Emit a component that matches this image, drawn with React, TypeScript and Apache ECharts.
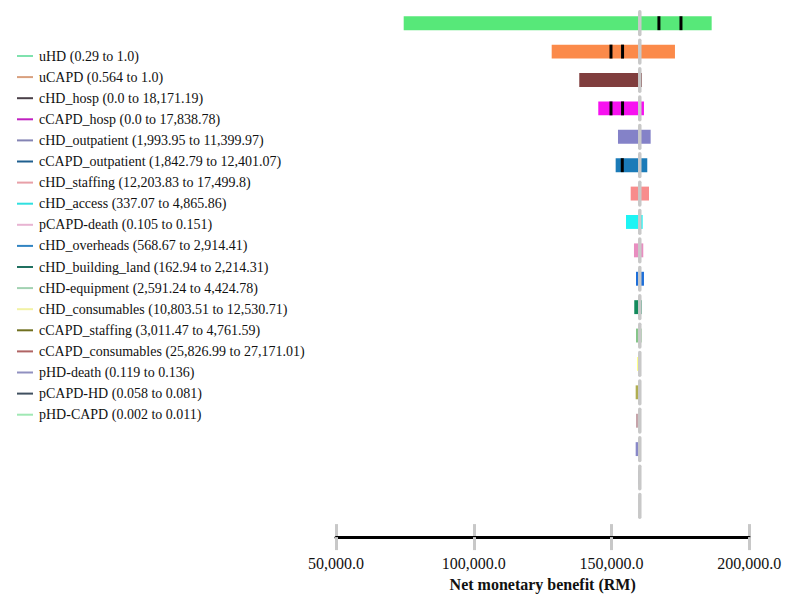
import React, { useEffect, useRef } from "react";
import * as echarts from "echarts";

const categories = [
  "uHD", "uCAPD", "cHD_hosp", "cCAPD_hosp", "cHD_outpatient", "cCAPD_outpatient",
  "cHD_staffing", "cHD_access", "pCAPD-death", "cHD_overheads", "cHD_building_land",
  "cHD-equipment", "cHD_consumables", "cCAPD_staffing", "cCAPD_consumables",
  "pHD-death", "pCAPD-HD", "pHD-CAPD",
];
const rangeLabels = [
  "0.29 to 1.0", "0.564 to 1.0", "0.0 to 18,171.19", "0.0 to 17,838.78",
  "1,993.95 to 11,399.97", "1,842.79 to 12,401.07", "12,203.83 to 17,499.8",
  "337.07 to 4,865.86", "0.105 to 0.151", "568.67 to 2,914.41", "162.94 to 2,214.31",
  "2,591.24 to 4,424.78", "10,803.51 to 12,530.71", "3,011.47 to 4,761.59",
  "25,826.99 to 27,171.01", "0.119 to 0.136", "0.058 to 0.081", "0.002 to 0.011",
];
const lowValues = [
  74570, 128280, 138290, 145190, 152340, 151500, 156950, 155240, 158140,
  158870, 158250, 158870, 159230, 158760, 158870, 158760, 159700, 160000,
];
const highValues = [
  186340, 173020, 161050, 161770, 164200, 162970, 163590, 161300, 161520,
  161770, 160940, 160940, 160680, 160580, 160580, 160320, 160400, 160350,
];
const baselineValue = 160250;
const markerRows = [0, 0, 1, 1, 3, 3, 5];
const markerValues = [167200, 175200, 149800, 154000, 149800, 154000, 153900];
const axisMin = 50000;
const axisMax = 200000;
const axisStep = 50000;

const barColors = [
  "#57E879", "#FB8A4A", "#803E3E", "#F711F0", "#8482C8", "#1B7BB8",
  "#F88C8C", "#1EF4F4", "#E88EC0", "#1E6FD9", "#138A5C", "#86C58A",
  "#FFFF88", "#B0AE50", "#C6A4AA", "#8888C8", "#5A5F70", "#90E0A0",
];
const legendColors = [
  "#7FE2AE", "#D9A07E", "#4A4048", "#C020C0", "#8484B4", "#1F5F8F",
  "#E8A0A8", "#30E0E0", "#E8B4D2", "#3184C2", "#207060", "#A2D2B2",
  "#F2F2A4", "#707020", "#B06464", "#9090C0", "#405060", "#A0E8B4",
];

const FONT = '"Liberation Serif", "Times New Roman", serif';

export default function App() {
  const ref = useRef<HTMLDivElement>(null);
  useEffect(() => {
    if (!ref.current) return;
    const chart = echarts.init(ref.current, null, { renderer: "svg" });
    const names = categories.map((c, i) => `${c} (${rangeLabels[i]})`);

    const barSeries = categories.map((c, i) => ({
      type: "custom",
      name: names[i],
      xAxisIndex: 0,
      yAxisIndex: 0,
      encode: { x: [0, 1], y: 2 },
      data: [[lowValues[i], highValues[i], i]],
      itemStyle: { color: barColors[i] },
      renderItem: (params: any, api: any) => {
        const row = api.value(2);
        const p0 = api.coord([api.value(0), row]);
        const p1 = api.coord([api.value(1), row]);
        const h = api.size([0, 1])[1] * 0.49;
        return {
          type: "rect",
          shape: { x: p0[0], y: p0[1] - h / 2, width: Math.max(p1[0] - p0[0], 1), height: h },
          style: { fill: barColors[i] },
        };
      },
    }));

    const baselineSeries = {
      type: "custom",
      name: "baseline",
      encode: { x: 0, y: 1 },
      data: categories.map((_, i) => [baselineValue, i]),
      renderItem: (params: any, api: any) => {
        const p = api.coord([api.value(0), api.value(1)]);
        const h = api.size([0, 1])[1];
        return {
          type: "line",
          shape: { x1: p[0], y1: p[1] - h * 0.4, x2: p[0], y2: p[1] + h * 0.4 },
          style: { stroke: "#C8C8C8", lineWidth: 3.5, lineCap: "round" },
        };
      },
    };

    const markerSeries = {
      type: "custom",
      name: "markers",
      encode: { x: 0, y: 1 },
      data: markerValues.map((v, i) => [v, markerRows[i]]),
      renderItem: (params: any, api: any) => {
        const p = api.coord([api.value(0), api.value(1)]);
        const h = api.size([0, 1])[1] * 0.49;
        return {
          type: "rect",
          shape: { x: p[0] - 1.5, y: p[1] - h / 2, width: 3, height: h },
          style: { fill: "#000" },
        };
      },
    };

    chart.setOption({
      animation: false,
      backgroundColor: "#fff",
      textStyle: { fontFamily: FONT },
      grid: { left: 336, right: 50.7, top: 9, bottom: 75, containLabel: false },
      legend: {
        orient: "vertical",
        left: 12,
        top: 44,
        itemWidth: 16,
        itemHeight: 2,
        itemGap: 7.1,
        icon: "rect",
        selectedMode: false,
        textStyle: { fontFamily: FONT, fontSize: 14, color: "#111", lineHeight: 14, padding: [0, 0, 0, 1] },
        data: names.map((n, i) => ({ name: n, itemStyle: { color: legendColors[i] } })),
      },
      xAxis: [
        {
          type: "value",
          min: axisMin,
          max: axisMax,
          interval: axisStep,
          position: "bottom",
          offset: 17,
          splitLine: { show: false },
          axisLine: { show: true, lineStyle: { color: "#000", width: 3 } },
          axisTick: { show: true, length: 13, lineStyle: { color: "#C8C8C8", width: 3 } },
          axisLabel: {
            margin: 18,
            fontFamily: FONT,
            fontSize: 16,
            color: "#111",
            formatter: (v: number) =>
              v.toLocaleString("en-US", { minimumFractionDigits: 1, maximumFractionDigits: 1 }),
          },
          name: "Net monetary benefit (RM)",
          nameLocation: "middle",
          nameGap: 38,
          nameTextStyle: { fontFamily: FONT, fontSize: 16, fontWeight: "bold", color: "#111" },
          z: 3,
        },
        {
          type: "value",
          min: axisMin,
          max: axisMax,
          interval: axisStep,
          position: "bottom",
          offset: 17,
          splitLine: { show: false },
          axisLine: { show: false },
          axisTick: { show: true, inside: true, length: 13, lineStyle: { color: "#C8C8C8", width: 3 } },
          axisLabel: { show: false },
          z: 2,
        },
      ],
      yAxis: {
        type: "category",
        data: categories,
        inverse: true,
        show: false,
      },
      series: [...barSeries, baselineSeries, markerSeries],
    });
    return () => chart.dispose();
  }, []);
  return <div ref={ref} style={{ width: 800, height: 597, position: "absolute", left: 0, top: 0 }} />;
}
